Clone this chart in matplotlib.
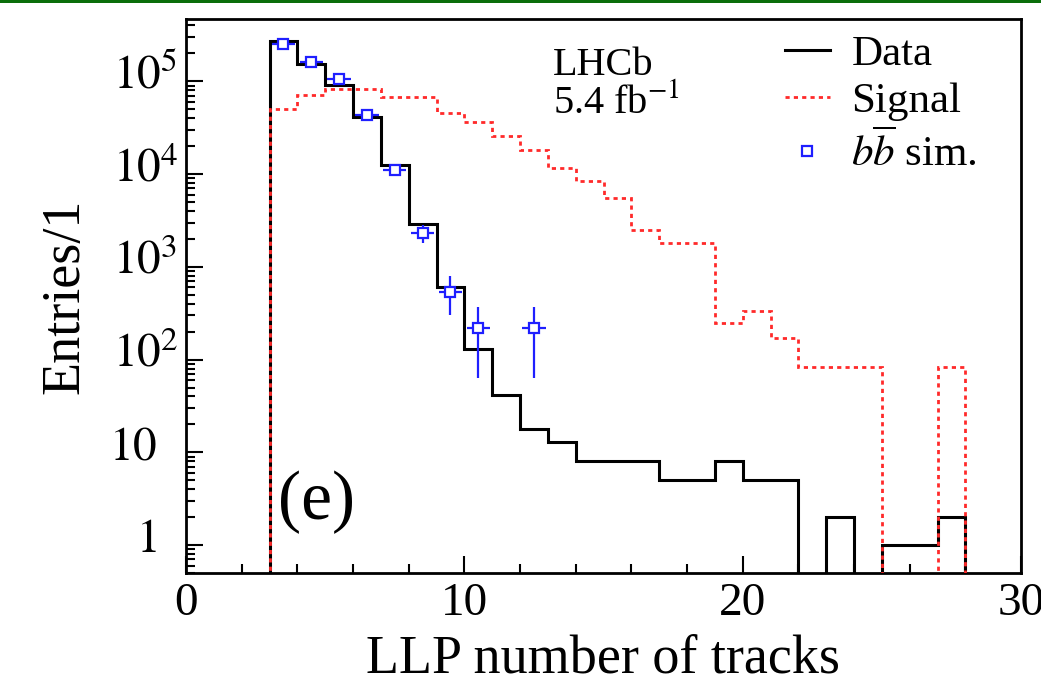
import numpy as np
import matplotlib
matplotlib.use("Agg")
import matplotlib.pyplot as plt
from matplotlib.lines import Line2D
from matplotlib.ticker import LogLocator, MultipleLocator, NullFormatter, FixedLocator
from matplotlib.transforms import offset_copy

plt.rcParams["font.family"] = ["Liberation Serif", "DejaVu Serif"]
plt.rcParams["mathtext.fontset"] = "stix"

# histogram bins: 3-4, 4-5, ..., 29-30
bin_edges = list(range(3, 31))
data_counts = [2.73e5, 1.55e5, 9.2e4, 4.1e4, 1.24e4, 2.9e3, 610, 131, 41, 18, 13,
               8, 8, 8, 5, 5, 8, 5, 5, 0, 2, 0, 1, 1, 2, 0, 0]
signal_counts = [5.0e4, 7.1e4, 8.3e4, 8.3e4, 6.7e4, 6.7e4, 4.6e4, 3.6e4, 2.55e4,
                 1.8e4, 1.15e4, 8.4e3, 5.5e3, 2.5e3, 1.8e3, 1.8e3, 250, 336, 169,
                 84, 84, 84, 0, 0, 84, 0, 0]

# bb simulation points
bb_x = [3.5, 4.5, 5.5, 6.5, 7.5, 8.5, 9.5, 10.5, 12.5]
bb_y = [2.5e5, 1.6e5, 1.05e5, 4.3e4, 1.1e4, 2.3e3, 540, 217, 217]
bb_err_up = [0, 0, 0, 0, 0, 500, 250, 150, 150]
bb_err_down = [0, 0, 0, 0, 0, 500, 240, 154, 154]
bb_xerr = 0.42

ytick_vals = [1, 10, 1e2, 1e3, 1e4, 1e5]
ytick_text = ["$1$", "$10$", "$10^{2}$", "$10^{3}$", "$10^{4}$", "$10^{5}$"]
xtick_vals = [0, 10, 20, 30]

fig = plt.figure(figsize=(10.41, 6.86), dpi=100)
ax = fig.add_axes([186 / 1041, 1 - 573 / 686, (1021 - 186) / 1041, (573 - 19) / 686])

floor = 1e-2  # below the visible range, stands in for empty bins on log axis
ax.stairs(np.where(np.array(data_counts) > 0, data_counts, floor), bin_edges,
          baseline=floor, color="black", lw=2.2, zorder=3)
ax.stairs(np.where(np.array(signal_counts) > 0, signal_counts, floor), bin_edges,
          baseline=floor, color="#ff2a2a", lw=2.0, linestyle=(0, (1.5, 1.5)), zorder=4)

ax.errorbar(bb_x, bb_y, yerr=[bb_err_down, bb_err_up], xerr=bb_xerr, fmt="s",
            color="#1f1fff", mfc="white", mec="#1f1fff", ms=7.5, mew=1.6,
            elinewidth=1.6, capsize=0, zorder=5)

ax.set_yscale("log")
ax.set_xlim(0, 30)
ax.set_ylim(0.5, 4.7e5)

ax.xaxis.set_major_locator(FixedLocator(xtick_vals))
ax.xaxis.set_minor_locator(MultipleLocator(2))
ax.yaxis.set_major_locator(FixedLocator(ytick_vals))
ax.yaxis.set_minor_locator(LogLocator(base=10, subs=np.arange(2, 10)))
ax.yaxis.set_major_formatter(NullFormatter())
ax.yaxis.set_minor_formatter(NullFormatter())

ax.tick_params(which="both", direction="in", top=False, right=False, width=1.5)
ax.tick_params(which="major", length=12)
ax.tick_params(which="minor", length=6.5)
ax.tick_params(axis="x", labelsize=34, pad=7)
for s in ax.spines.values():
    s.set_linewidth(2.0)

# y tick labels, ROOT-like alignment on the "10"
ytrans = ax.get_yaxis_transform()
for v, t in zip(ytick_vals, ytick_text):
    if "^" in t:
        tr = offset_copy(ytrans, fig=fig, x=-73, y=-7, units="dots")
        ax.text(0, v, t, transform=tr, ha="left", va="baseline", fontsize=34)
    else:
        tr = offset_copy(ytrans, fig=fig, x=-29, y=-7, units="dots")
        ax.text(0, v, t, transform=tr, ha="right", va="baseline", fontsize=34)

ax.set_xlabel("LLP number of tracks", fontsize=39)
ax.xaxis.set_label_coords(0.5, -0.11)
ax.set_ylabel("Entries/1", fontsize=39)
ax.yaxis.set_label_coords(-0.115, 0.5)

ax.text(0.439, 0.899, "LHCb", transform=ax.transAxes, fontsize=29, va="baseline")
ax.text(0.439, 0.830, "5.4 fb$^{-1}$", transform=ax.transAxes, fontsize=29, va="baseline")
ax.text(0.110, 0.0975, "(e)", transform=ax.transAxes, fontsize=50, va="baseline")

handles = [
    Line2D([], [], color="black", lw=2.2),
    Line2D([], [], color="#ff2a2a", lw=2.0, linestyle=(0, (1.5, 1.5))),
    Line2D([], [], color="#1f1fff", marker="s", mfc="white", ms=7.5, mew=1.6, lw=0),
]
ax.legend(handles, ["Data", "Signal", r"$b\overline{b}$ sim."], loc="upper left",
          bbox_to_anchor=(0.717, 0.972), frameon=False, fontsize=31,
          borderpad=0, borderaxespad=0, handlelength=1.05, handletextpad=0.5,
          labelspacing=0.2)

# green strip along the top edge of the picture
fig.add_artist(plt.Rectangle((0, 1 - 3 / 686), 1, 3 / 686, transform=fig.transFigure,
                             color="#0b6e0b", lw=0))

fig.savefig("out.png", dpi=100)
